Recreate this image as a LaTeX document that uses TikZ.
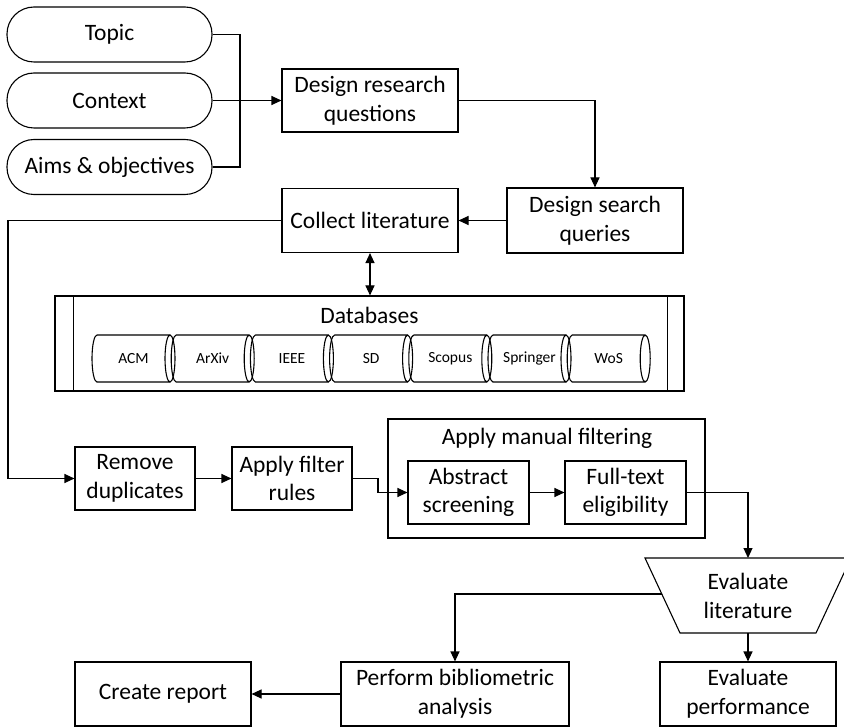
\documentclass[tikz,border=0pt]{standalone}
\usepackage{fontspec}
\setmainfont{Carlito}
\usetikzlibrary{arrows.meta}
\tikzset{
  ln/.style={line width=1.1pt},
  arr/.style={ln, -{Triangle[length=10pt,width=9pt]}},
  arrtwo/.style={ln, {Triangle[length=10pt,width=9pt]}-{Triangle[length=10pt,width=9pt]}},
  txt/.style={inner sep=0pt, align=center, font=\fontsize{23.5}{28.7}\selectfont},
  box/.style={txt, draw, ln},
  term/.style={box, rounded corners=27pt, minimum width=205pt, minimum height=55pt},
  small/.style={inner sep=0pt, font=\fontsize{15.5}{18}\selectfont}
}
\begin{document}
\begin{tikzpicture}[x=1pt,y=-1pt]
\useasboundingbox (0,0) rectangle (844,727);
\begin{scope}
\clip (0,0) rectangle (844,727);
% terminals
\node[term] (Topic) at (109.5,34.5) {Topic};
\node[term] (Context) at (109.5,100.5) {Context};
\node[term] (Aims) at (109.5,167) {Aims \& objectives};
\coordinate (J) at (240,100.5);
% process boxes
\node[box, minimum width=176pt, minimum height=63pt] (DRQ) at (370,100.5) {Design research\\questions};
\node[box, minimum width=176pt, minimum height=65pt] (DSQ) at (595,220.5) {Design search\\queries};
\node[box, minimum width=176pt, minimum height=64pt] (CL) at (370,220.5) {Collect literature};
% databases container
\node[draw, ln, minimum width=629pt, minimum height=95pt, inner sep=0pt] (DB) at (369.5,343.5) {};
\draw[ln] ([xshift=19pt]DB.north west) -- ([xshift=19pt]DB.south west);
\draw[ln] ([xshift=-17pt]DB.north east) -- ([xshift=-17pt]DB.south east);
\node[txt] (DBt) at (369.5,315) {Databases};
\foreach \n [count=\i from 0] in {ACM,ArXiv,IEEE,SD,Scopus,Springer,WoS}{
  \pgfmathsetmacro\L{97+79.2*\i}
  \pgfmathsetmacro\R{\L+73}
  \draw[ln] (\L,335) -- (\R,335) (\R,358.5) ellipse[x radius=5pt, y radius=23.5pt]
    (\R,382) -- (\L,382) arc[start angle=270, end angle=90, x radius=5pt, y radius=23.5pt];
  \pgfmathsetmacro\M{(\L+\R)/2}
  \node[small] (db\i) at (\M,358.5) {\n};
}
% filtering row
\node[box, minimum width=120pt, minimum height=63pt] (RD) at (135,478.5) {Remove\\duplicates};
\node[box, minimum width=120pt, minimum height=63pt] (AFR) at (292,478.5) {Apply filter\\rules};
\node[draw, ln, minimum width=317pt, minimum height=119pt, inner sep=0pt] (MF) at (546.5,478.5) {};
\node[txt] (MFt) at (547,438) {Apply manual filtering};
\node[box, minimum width=121pt, minimum height=63pt] (AS) at (468.5,492.5) {Abstract\\screening};
\node[box, minimum width=121pt, minimum height=63pt] (FTE) at (625.5,492.5) {Full-text\\eligibility};
% evaluate literature trapezoid
\draw[ln] (645,558) -- (851,558) -- (816,633) -- (680,633) -- cycle;
\node[txt] (EL) at (748,596) {Evaluate\\literature};
\coordinate (ELtop) at (748,558);
\coordinate (ELbot) at (748,633);
\coordinate (ELl) at (662.3,594);
% bottom row
\node[box, minimum width=228pt, minimum height=64pt] (PBA) at (455,694) {Perform bibliometric\\analysis};
\node[box, minimum width=176pt, minimum height=64pt] (CR) at (163,694) {Create report};
\node[box, minimum width=176pt, minimum height=64pt] (EP) at (748,694) {Evaluate\\performance};
% connectors
\coordinate (L) at (8,350);
\coordinate (K) at (378,485);
\draw[ln] (Topic.east) -| (J) |- (Aims.east);
\draw[arr] (Context.east) -- (DRQ.west);
\draw[arr] (DRQ.east) -| (DSQ.north);
\draw[arr] (DSQ.west) -- (CL.east);
\draw[arrtwo] (CL.south) -- (CL.south |- DB.north);
\draw[arr] (CL.west) -| (L) |- (RD.west);
\draw[arr] (RD.east) -- (AFR.west);
\draw[arr] (AFR.east) -| (K) |- (AS.west);
\draw[arr] (AS.east) -- (FTE.west);
\draw[arr] (FTE.east) -| (ELtop);
\draw[arr] (ELl) -| (PBA.north);
\draw[arr] (ELbot) -- (EP.north);
\draw[arr] (PBA.west) -- (CR.east);
\end{scope}
\end{tikzpicture}
\end{document}
